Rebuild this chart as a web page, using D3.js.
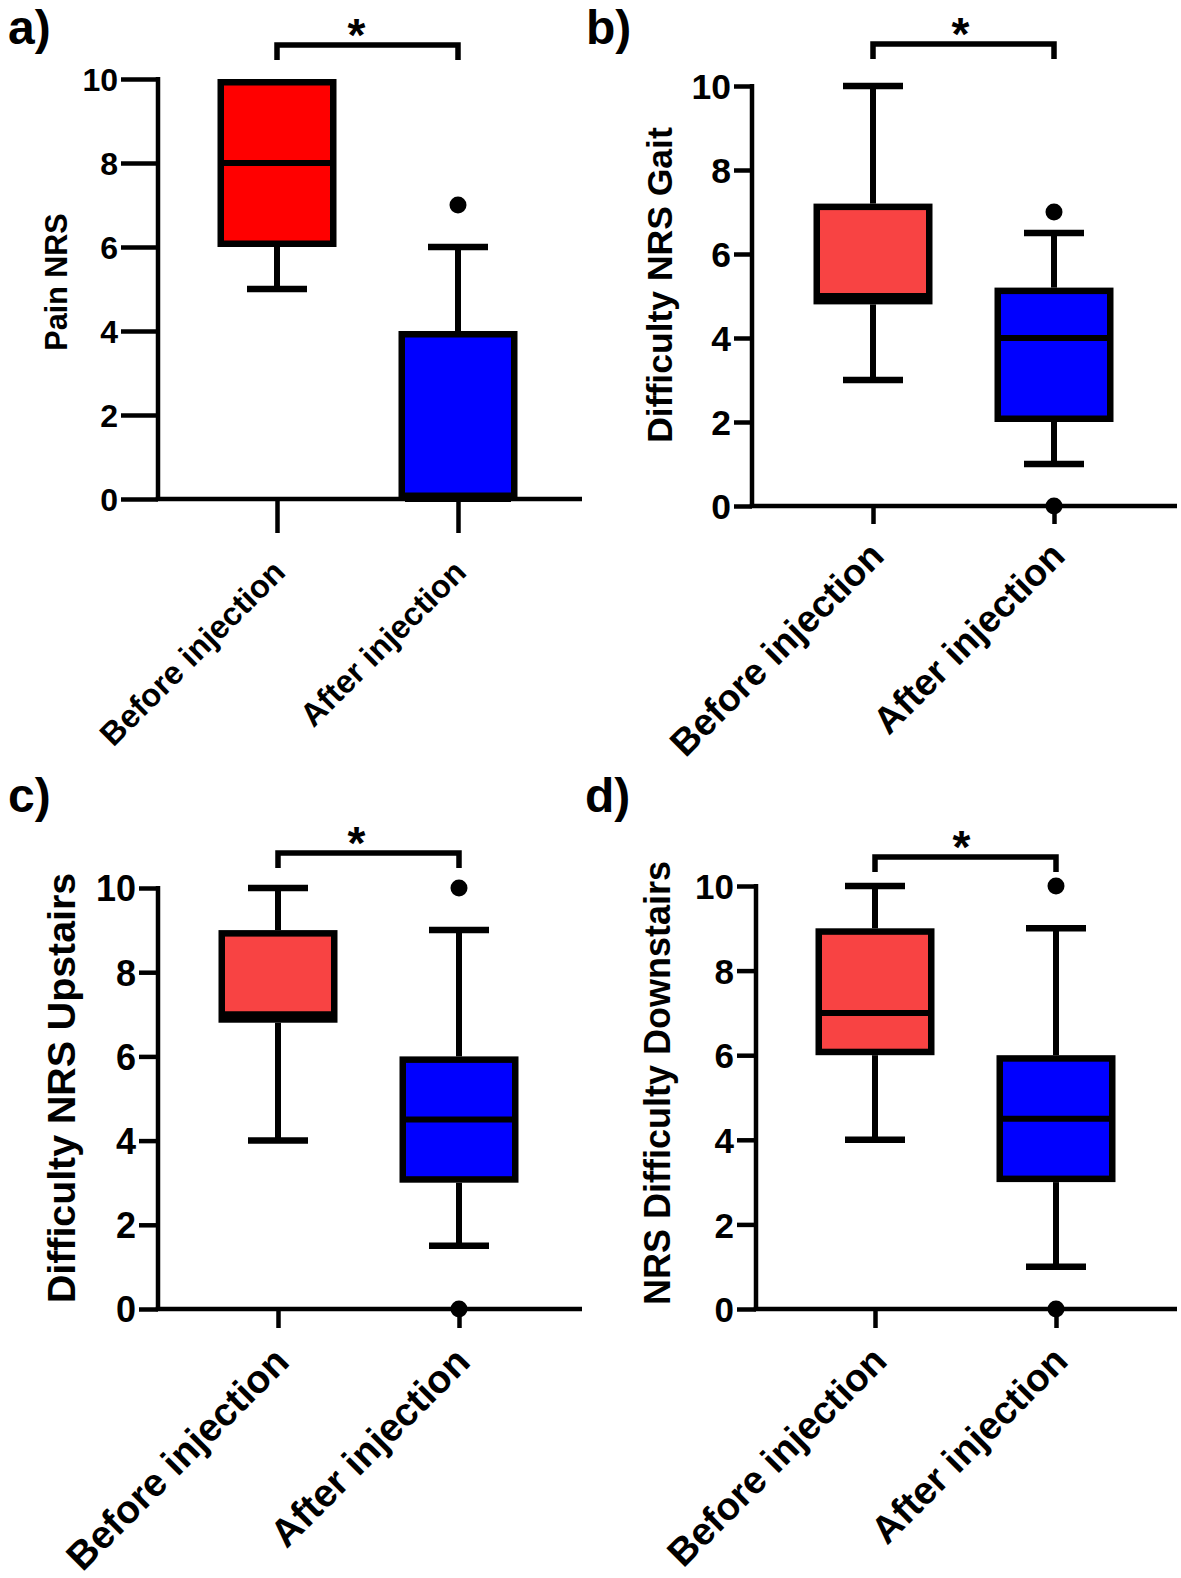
<!DOCTYPE html>
<html>
<head>
<meta charset="utf-8">
<script src="https://cdn.jsdelivr.net/npm/d3@7"></script>
<style>
  html, body { margin: 0; padding: 0; background: #fff; }
  svg text { font-family: "Liberation Sans", Arial, sans-serif; font-weight: bold; fill: #000; }
</style>
</head>
<body>
<svg id="chart" width="1181" height="1578"></svg>
<script>
// ---------------- DATA ----------------
const panelLetters = ["a)", "b)", "c)", "d)"];
const categories = ["Before injection", "After injection"];
const yTickValues = [0, 2, 4, 6, 8, 10];
const yTitles = ["Pain NRS", "Difficulty NRS Gait", "Difficulty NRS Upstairs", "NRS Difficulty Downstairs"];
// per panel: [Before, After]
const whiskerLow  = [[5, 0],   [3, 1],     [4, 1.5],   [4, 1]];
const q1Values    = [[6, 0],   [4.8, 2],   [6.8, 3],   [6, 3]];
const medians     = [[8, 0],   [5, 4],     [7, 4.5],   [7, 4.5]];
const q3Values    = [[10, 4],  [7.2, 5.2], [9, 6],     [9, 6]];
const whiskerHigh = [[10, 6],  [10, 6.5],  [10, 9],    [10, 9]];
const outliers    = [[[], [7]], [[], [7, 0]], [[], [10, 0]], [[], [10, 0]]];
const significance = ["*", "*", "*", "*"];

// ---------------- LAYOUT ----------------
const layouts = [
  { ax: 158, y10: 79,  y0: 499,  xEnd: 582,  xc: [277, 458],  ytl: 37, xtl: 34, tickFont: 32, xlabFont: 32.5, xlabOff: [10, 75],
    title: { x: 56, y: 282, size: 30.5 }, letter: { x: 8, y: 44 }, br: { y: 45, leg: 60 }, starDx: -11, red: "#ff0000" },
  { ax: 752, y10: 86,  y0: 506,  xEnd: 1177, xc: [873, 1054], ytl: 18, xtl: 18, tickFont: 35.5, xlabFont: 37.5, xlabOff: [13, 52],
    title: { x: 660, y: 285, size: 35.5 }, letter: { x: 586, y: 44 }, br: { y: 44, leg: 59 }, starDx: -3, red: "#f84343" },
  { ax: 158, y10: 888, y0: 1309, xEnd: 582,  xc: [278, 459],  ytl: 19, xtl: 19, tickFont: 36, xlabFont: 39, xlabOff: [13, 55],
    title: { x: 61, y: 1088, size: 39.3 }, letter: { x: 8, y: 812 }, br: { y: 853, leg: 868 }, starDx: -12, red: "#f84343" },
  { ax: 756, y10: 886, y0: 1309, xEnd: 1177, xc: [875, 1056], ytl: 19, xtl: 19, tickFont: 35, xlabFont: 38.5, xlabOff: [14, 54],
    title: { x: 657, y: 1083, size: 36 }, letter: { x: 585, y: 812 }, br: { y: 857, leg: 872 }, starDx: -4, red: "#f84343" }
];
const blue = "#0000ff";
const boxW = 119, capW = 60, sw = 6.5, axisW = 4.5;

const svg = d3.select("#chart");

layouts.forEach((L, p) => {
  const g = svg.append("g");
  const y = d3.scaleLinear().domain([0, 10]).range([L.y0, L.y10]);
  const x = d3.scalePoint().domain(categories).range(L.xc);

  // panel letter
  g.append("text").attr("x", L.letter.x).attr("y", L.letter.y)
    .style("font-size", "48px").text(panelLetters[p]);

  // y axis
  const yAxis = d3.axisLeft(y).tickValues(yTickValues).tickSize(L.ytl).tickSizeOuter(0)
    .tickPadding(3).tickFormat(d3.format("d"));
  const yg = g.append("g").attr("transform", `translate(${L.ax},0)`).call(yAxis);
  yg.select(".domain").attr("stroke", "#000").attr("stroke-width", axisW)
    .attr("d", `M0,${L.y0}V${L.y10 - 2}`);
  yg.selectAll(".tick line").attr("stroke", "#000").attr("stroke-width", axisW);
  yg.selectAll(".tick text")
    .attr("dy", "0.36em")
    .style("font-size", L.tickFont + "px").style("font-family", "Liberation Sans, Arial, sans-serif")
    .style("font-weight", "bold").attr("fill", "#000");

  // x axis
  const xAxis = d3.axisBottom(x).tickSize(L.xtl).tickSizeOuter(0).tickFormat("");
  const xg = g.append("g").attr("transform", `translate(0,${L.y0})`).call(xAxis);
  xg.select(".domain").remove();
  xg.selectAll(".tick line").attr("stroke", "#000").attr("stroke-width", axisW);
  g.append("line").attr("x1", L.ax - axisW / 2).attr("x2", L.xEnd).attr("y1", L.y0).attr("y2", L.y0)
    .attr("stroke", "#000").attr("stroke-width", axisW);

  // x labels (rotated)
  categories.forEach(c => {
    g.append("text")
      .attr("transform", `translate(${x(c) + L.xlabOff[0]},${L.y0 + L.xlabOff[1]}) rotate(-45)`)
      .attr("text-anchor", "end")
      .style("font-size", L.xlabFont + "px")
      .text(c);
  });

  // y title
  g.append("text")
    .attr("transform", `translate(${L.title.x},${L.title.y}) rotate(-90)`)
    .attr("text-anchor", "middle").attr("dy", "0.35em")
    .style("font-size", L.title.size + "px")
    .text(yTitles[p]);

  // boxes
  categories.forEach((c, i) => {
    const cx = x(c);
    const fill = i === 0 ? L.red : blue;
    const lo = whiskerLow[p][i], hi = whiskerHigh[p][i];
    const b1 = q1Values[p][i], b3 = q3Values[p][i], md = medians[p][i];
    if (hi > b3) {
      g.append("line").attr("x1", cx).attr("x2", cx).attr("y1", y(b3)).attr("y2", y(hi))
        .attr("stroke", "#000").attr("stroke-width", 6);
      g.append("line").attr("x1", cx - capW / 2).attr("x2", cx + capW / 2).attr("y1", y(hi)).attr("y2", y(hi))
        .attr("stroke", "#000").attr("stroke-width", sw);
    }
    if (lo < b1) {
      g.append("line").attr("x1", cx).attr("x2", cx).attr("y1", y(b1)).attr("y2", y(lo))
        .attr("stroke", "#000").attr("stroke-width", 6);
      g.append("line").attr("x1", cx - capW / 2).attr("x2", cx + capW / 2).attr("y1", y(lo)).attr("y2", y(lo))
        .attr("stroke", "#000").attr("stroke-width", sw);
    }
    g.append("rect")
      .attr("x", cx - boxW / 2 + sw / 2).attr("width", boxW - sw)
      .attr("y", y(b3) + sw / 2).attr("height", y(b1) - y(b3) - sw)
      .attr("fill", fill).attr("stroke", "#000").attr("stroke-width", sw);
    g.append("line").attr("x1", cx - boxW / 2 + sw).attr("x2", cx + boxW / 2 - sw)
      .attr("y1", y(md)).attr("y2", y(md)).attr("stroke", "#000").attr("stroke-width", 6);
    outliers[p][i].forEach(v => {
      g.append("circle").attr("cx", cx).attr("cy", y(v)).attr("r", 8.5).attr("fill", "#000");
    });
  });

  // significance bracket
  const [xa, xb] = L.xc;
  g.append("path")
    .attr("d", `M${xa},${L.br.leg}V${L.br.y}H${xb}V${L.br.leg}`)
    .attr("fill", "none").attr("stroke", "#000").attr("stroke-width", 5.5);
  g.append("text").attr("x", (xa + xb) / 2 + L.starDx).attr("y", L.br.y + 6)
    .attr("text-anchor", "middle").style("font-size", "46px").text(significance[p]);
});
</script>
</body>
</html>
